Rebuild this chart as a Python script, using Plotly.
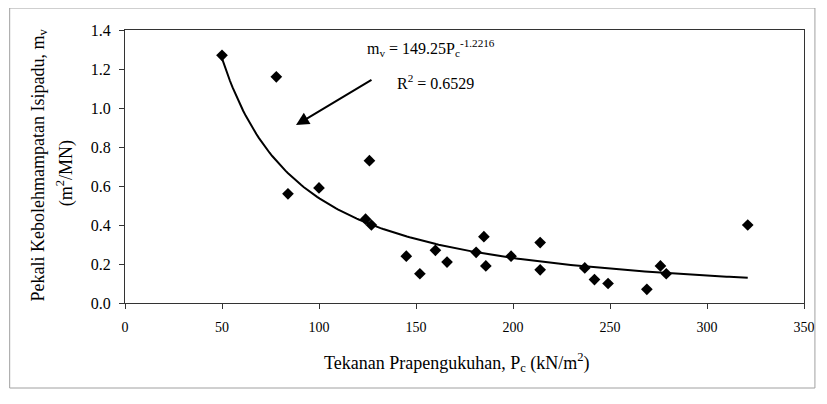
import plotly.graph_objects as go

# --- data ---
pc = [50, 78, 84, 100, 126, 124, 127, 145, 152, 160, 166, 181, 185, 186,
      199, 214, 214, 237, 242, 249, 269, 276, 279, 321]
mv = [1.27, 1.16, 0.56, 0.59, 0.73, 0.43, 0.40, 0.24, 0.15, 0.27, 0.21, 0.26,
      0.34, 0.19, 0.24, 0.31, 0.17, 0.18, 0.12, 0.10, 0.07, 0.19, 0.15, 0.40]

# power trendline shown on the chart: mv = a * Pc^b
fit_a = 149.25
fit_b = -1.2216
fit_r2 = 0.6529

x_ticks = [0, 50, 100, 150, 200, 250, 300, 350]
y_ticks = [0.0, 0.2, 0.4, 0.6, 0.8, 1.0, 1.2, 1.4]

# trendline spans the data range
n = 200
x0, x1 = min(pc), max(pc)
fit_x = [x0 + (x1 - x0) * i / (n - 1) for i in range(n)]
fit_y = [fit_a * v ** fit_b for v in fit_x]

FONT = "Liberation Serif"

fig = go.Figure()
fig.add_trace(go.Scatter(x=fit_x, y=fit_y, mode="lines",
                         line=dict(color="black", width=2), hoverinfo="skip"))
fig.add_trace(go.Scatter(x=pc, y=mv, mode="markers",
                         marker=dict(symbol="diamond", size=9, color="black")))

# page has an 8px body margin; figure sized/positioned to compensate
OFF = 8
W, H = 827 - OFF, 404 - 2 * OFF
PL, PT, PW, PH = 125, 30, 683, 273   # plot area in page pixels
L, T = PL - OFF, PT - OFF
R = W - L - PW
B = H - T - PH


def px(xp):
    return (xp - PL) / PW


def py(yp):
    return (PT + PH - yp) / PH


fig.update_layout(
    width=W, height=H,
    margin=dict(l=L, r=R, t=T, b=B),
    paper_bgcolor="white", plot_bgcolor="white",
    showlegend=False,
    font=dict(family=FONT, color="black"),
    xaxis=dict(range=[0, 350], tickvals=x_ticks, ticks="outside", ticklen=5,
               tickcolor="#333", showline=True, linecolor="#333", linewidth=1,
               mirror=True, showgrid=False, zeroline=False,
               tickfont=dict(size=14, family=FONT), ticklabelstandoff=6),
    yaxis=dict(range=[0, 1.4], tickvals=y_ticks, tickformat=".1f",
               ticks="outside", ticklen=5, tickcolor="#333", showline=True,
               linecolor="#333", linewidth=1, mirror=True, showgrid=False,
               zeroline=False, tickfont=dict(size=16, family=FONT),
               ticklabelstandoff=5),
)

# outer chart border
fig.add_shape(type="rect", xref="paper", yref="paper",
              x0=px(9), x1=px(819), y0=py(388), y1=py(8),
              line=dict(color="#a0a0a0", width=1))

ann = [
    dict(x=px(38), y=py(165), text="Pekali Kebolehmampatan Isipadu, m<sub>v</sub>",
         textangle=-90, font=dict(size=18, family=FONT)),
    dict(x=px(65), y=py(173), text="(m<sup>2</sup>/MN)", textangle=-90,
         font=dict(size=18, family=FONT)),
    dict(x=px(459), y=py(362),
         text="Tekanan Prapengukuhan, P<sub>c</sub> (kN/m<sup>2</sup>)",
         font=dict(size=18, family=FONT)),
    dict(x=px(433), y=py(48),
         text=f"m<sub>v</sub> = {fit_a}P<sub>c</sub><sup>{fit_b}</sup>",
         font=dict(size=16, family=FONT)),
    dict(x=px(437), y=py(82), text=f"R<sup>2</sup> = {fit_r2}",
         font=dict(size=16, family=FONT)),
]
for a in ann:
    fig.add_annotation(xref="paper", yref="paper", showarrow=False,
                       xanchor="center", yanchor="middle", **a)

fig.add_annotation(xref="paper", yref="paper", x=px(297), y=py(125),
                   ax=77, ay=-46, axref="pixel", ayref="pixel", text="",
                   showarrow=True, arrowhead=2, arrowsize=1.3, arrowwidth=2,
                   arrowcolor="black", standoff=0)

fig.write_html("out.html")
